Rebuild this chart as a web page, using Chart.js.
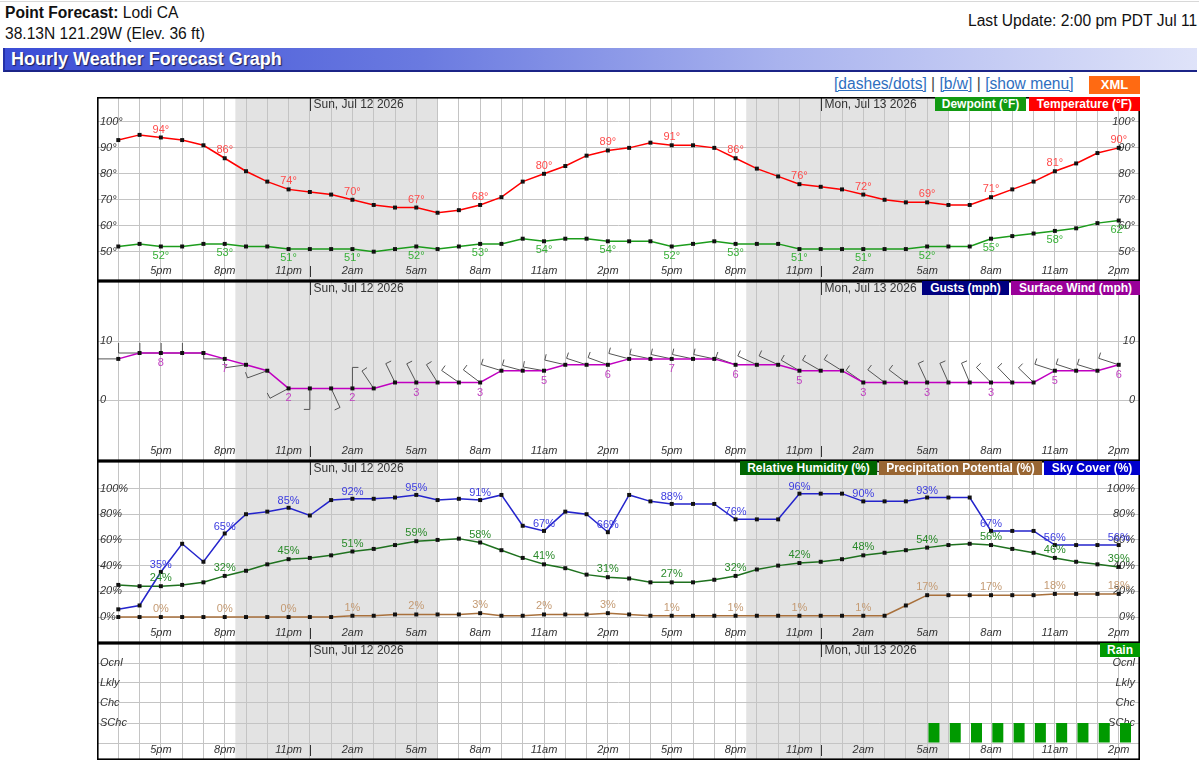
<!DOCTYPE html>
<html>
<head>
<meta charset="utf-8">
<title>Hourly Weather Forecast Graph</title>
<script src="https://cdn.jsdelivr.net/npm/chart.js@4.4.1/dist/chart.umd.min.js"></script>
<style>
  body { margin: 0; background: #fff; font-family: "Liberation Sans", Arial, sans-serif; }
  #page { position: relative; width: 1199px; height: 782px; overflow: hidden; }
  .abs { position: absolute; white-space: nowrap; }
  .head { font-size: 15.6px; line-height: 18px; color: #111; }
  .panel { position: absolute; left: 97px; width: 1043px; }
  .panel canvas { display: block; }
  .key { position: absolute; height: 14px; line-height: 14px; font-size: 12px; font-weight: bold;
         color: #fff; text-align: center; white-space: nowrap; }
  #titlebar { left: 3px; top: 48px; width: 1194px; height: 24px; line-height: 23px;
              border-left: 2px solid #2431a8; border-bottom: 2px solid #1b2487;
              background: linear-gradient(to right, #3b4dd6 0%, #6a7ae0 35%, #a9b3ee 65%, #dfe3f9 100%);
              color: #fff; font-size: 18px; font-weight: bold; padding-left: 6px; box-sizing: border-box;
              text-shadow: 1px 1px 1px #1a1f5a; }
  .links { left: 834px; top: 75px; font-size: 15.6px; line-height: 18px; color: #444; }
  .links a { color: #2f6fc0; text-decoration: underline; }
  .xml { left: 1089px; top: 76px; width: 51px; height: 18px; line-height: 18px; background: #ff6a12;
         color: #fff; font-weight: bold; font-size: 13px; text-align: center; }
</style>
</head>
<body>
<div id="page">
  <div class="abs" style="left:0;top:1px;width:1199px;height:1px;background:#d8d8d8"></div>
  <div class="abs head" style="left:5px;top:4px"><b>Point Forecast:</b> Lodi CA</div>
  <div class="abs head" style="left:5px;top:25px">38.13N 121.29W (Elev. 36 ft)</div>
  <div class="abs head" style="left:968px;top:12px">Last Update: 2:00 pm PDT Jul 11</div>
  <div id="titlebar" class="abs">Hourly Weather Forecast Graph</div>
  <div class="abs links"><a>[dashes/dots]</a> | <a>[b/w]</a> | <a>[show menu]</a></div>
  <div class="abs xml">XML</div>

  <div class="panel" style="top:97px;height:184px"><canvas id="tempChart" width="1043" height="184"></canvas></div>
  <div class="panel" style="top:281px;height:180px"><canvas id="windChart" width="1043" height="180"></canvas></div>
  <div class="panel" style="top:461px;height:182px"><canvas id="pctChart" width="1043" height="182"></canvas></div>
  <div class="panel" style="top:643px;height:117px"><canvas id="rainChart" width="1043" height="117"></canvas></div>

  <div class="key" style="left:935px;top:97px;width:91px;background:#129a12">Dewpoint (°F)</div>
  <div class="key" style="left:1029px;top:97px;width:111px;background:#ff0000">Temperature (°F)</div>
  <div class="key" style="left:922px;top:281px;width:87px;background:#000080">Gusts (mph)</div>
  <div class="key" style="left:1011px;top:281px;width:129px;background:#990099">Surface Wind (mph)</div>
  <div class="key" style="left:740px;top:461px;width:137px;background:#006600">Relative Humidity (%)</div>
  <div class="key" style="left:879px;top:461px;width:163px;background:#996633">Precipitation Potential (%)</div>
  <div class="key" style="left:1044px;top:461px;width:96px;background:#0000cc">Sky Cover (%)</div>
  <div class="key" style="left:1100px;top:643px;width:40px;background:#009900">Rain</div>
</div>
<script>
// hours: 3pm Jul 11 .. 2pm Jul 13
const hourLabels = ['3pm', '4pm', '5pm', '6pm', '7pm', '8pm', '9pm', '10pm', '11pm',
  '12am', '1am', '2am', '3am', '4am', '5am', '6am', '7am', '8am', '9am', '10am', '11am', '12pm', '1pm', '2pm',
  '3pm', '4pm', '5pm', '6pm', '7pm', '8pm', '9pm', '10pm', '11pm',
  '12am', '1am', '2am', '3am', '4am', '5am', '6am', '7am', '8am', '9am', '10am', '11am', '12pm', '1pm', '2pm'];
const nights = [[5.5, 15], [29.5, 39]];
const midnights = [9, 33];
const dayLabels = ['Sun, Jul 12 2026', 'Mon, Jul 13 2026'];

const temperature = [93, 95, 94, 93, 91, 86, 81, 77, 74, 73, 72, 70, 68, 67, 67, 65, 66, 68,
  71, 77, 80, 83, 87, 89, 90, 92, 91, 91, 90, 86, 82, 79, 76,
  75, 74, 72, 70, 69, 69, 68, 68, 71, 74, 77, 81, 84, 88, 90];
const dewpoint = [52, 53, 52, 52, 53, 53, 52, 52, 51, 51, 51, 51, 50, 51, 52, 51, 52, 53,
  53, 55, 54, 55, 55, 54, 54, 54, 52, 53, 54, 53, 53, 53, 51,
  51, 51, 51, 51, 51, 52, 52, 52, 55, 56, 57, 58, 59, 61, 62];
const windSpeed = [7, 8, 8, 8, 8, 7, 6, 5, 2, 2, 2, 2, 2, 3, 3, 3, 3, 3,
  5, 5, 5, 6, 6, 6, 7, 7, 7, 7, 7, 6, 6, 6, 5,
  5, 5, 3, 3, 3, 3, 3, 3, 3, 3, 3, 5, 5, 5, 6];
const windDir = [270, 270, 270, 270, 270, 270, 262, 250, 242, 180, 155, 360, 326, 334, 333, 328, 305, 307,
  287, 285, 280, 283, 288, 290, 285, 282, 282, 282, 282, 290, 295, 295, 300,
  300, 302, 305, 307, 307, 335, 336, 337, 316, 316, 314, 288, 288, 287, 288];
const skyCover = [6, 9, 35, 57, 43, 65, 80, 82, 85, 79, 91, 92, 92, 93, 95, 91, 92, 91,
  95, 71, 67, 82, 80, 66, 95, 90, 88, 88, 88, 76, 76, 76, 96,
  96, 96, 90, 90, 90, 93, 93, 93, 67, 67, 67, 56, 56, 56, 56];
const humidity = [25, 24, 24, 25, 27, 32, 36, 41, 45, 46, 48, 51, 53, 56, 59, 60, 61, 58,
  52, 46, 41, 38, 33, 31, 30, 27, 27, 27, 29, 32, 37, 40, 42,
  43, 45, 48, 50, 52, 54, 56, 57, 56, 53, 50, 46, 43, 41, 39];
const precipPot = [0, 0, 0, 0, 0, 0, 0, 0, 0, 0, 0, 1, 1, 2, 2, 2, 2, 3,
  1, 1, 2, 2, 2, 3, 2, 1, 1, 1, 1, 1, 1, 1, 1,
  1, 1, 1, 1, 9, 17, 17, 17, 17, 17, 17, 18, 18, 18, 18];
// 0 = none, 1 = SChc, 2 = Chc, 3 = Lkly, 4 = Ocnl
const rainChance = [0, 0, 0, 0, 0, 0, 0, 0, 0, 0, 0, 0, 0, 0, 0, 0, 0, 0,
  0, 0, 0, 0, 0, 0, 0, 0, 0, 0, 0, 0, 0, 0, 0,
  0, 0, 0, 0, 0, 1, 1, 1, 1, 1, 1, 1, 1, 1, 1];

const tempTicks = [50, 60, 70, 80, 90, 100];
const windTicks = [0, 10];
const pctTicks = [0, 20, 40, 60, 80, 100];
const rainTicks = ['', 'SChc', 'Chc', 'Lkly', 'Ocnl'];

const FONT = '"Liberation Sans", Arial, sans-serif';
const GRID = '#c4c4c4';

const panelDecor = {
  id: 'panelDecor',
  beforeDraw(chart) {
    const { ctx, chartArea: a } = chart;
    const x = chart.scales.x;
    ctx.save();
    ctx.fillStyle = '#e3e3e3';
    nights.forEach(([s, e]) => {
      const x0 = x.getPixelForValue(s);
      ctx.fillRect(x0, a.top, x.getPixelForValue(e) - x0, a.bottom - a.top);
    });
    ctx.restore();
  },
  afterDraw(chart) {
    const { ctx, chartArea: a } = chart;
    const x = chart.scales.x;
    ctx.save();
    ctx.strokeStyle = '#333';
    ctx.fillStyle = '#333';
    ctx.lineWidth = 1;
    ctx.font = `12px ${FONT}`;
    ctx.textBaseline = 'middle';
    midnights.forEach((m, i) => {
      const px = Math.round(x.getPixelForValue(m)) + 0.5;
      ctx.beginPath();
      ctx.moveTo(px, a.top);
      ctx.lineTo(px, a.top + 14);
      ctx.moveTo(px, a.bottom - 15);
      ctx.lineTo(px, a.bottom - 4);
      ctx.stroke();
      ctx.fillText(dayLabels[i], px + 3, a.top + 8);
    });
    ctx.strokeStyle = '#000';
    ctx.lineWidth = 1.6;
    ctx.strokeRect(a.left + 0.8, a.top + 0.8, a.right - a.left - 1.6, a.bottom - a.top - 1.6);
    ctx.restore();
  },
};

const valueLabels = {
  id: 'valueLabels',
  afterDatasetsDraw(chart) {
    const { ctx } = chart;
    chart.data.datasets.forEach((ds, di) => {
      if (!ds.valueLabel) return;
      const meta = chart.getDatasetMeta(di);
      ctx.save();
      ctx.font = `11px ${FONT}`;
      ctx.fillStyle = ds.valueLabel.color;
      ctx.textAlign = 'center';
      ctx.textBaseline = 'middle';
      meta.data.forEach((pt, i) => {
        if (i % 3 !== 2) return;
        ctx.fillText(ds.data[i].y + ds.valueLabel.suffix, pt.x, pt.y + ds.valueLabel.dy);
      });
      ctx.restore();
    });
  },
};

const windBarbs = {
  id: 'windBarbs',
  beforeDatasetsDraw(chart) {
    const { ctx } = chart;
    const meta = chart.getDatasetMeta(0);
    ctx.save();
    ctx.strokeStyle = '#555';
    ctx.lineWidth = 1;
    ctx.beginPath();
    meta.data.forEach((pt, i) => {
      const a = windDir[i] * Math.PI / 180;
      const ux = Math.sin(a);
      const uy = -Math.cos(a);
      const ex = pt.x + ux * 21;
      const ey = pt.y + uy * 21;
      const barb = windSpeed[i] >= 8 ? 10 : 6;
      ctx.moveTo(pt.x, pt.y);
      ctx.lineTo(ex, ey);
      ctx.lineTo(ex - uy * barb, ey + ux * barb);
    });
    ctx.stroke();
    ctx.restore();
  },
};

const tickFont = { family: FONT, size: 11, style: 'italic' };

function xScale() {
  return {
    type: 'linear',
    min: -1,
    max: hourLabels.length,
    offset: false,
    afterBuildTicks: (s) => {
      s.ticks = [];
      for (let i = -1; i <= hourLabels.length; i += 1) s.ticks.push({ value: i });
    },
    afterFit: (s) => { s.height = 0; s.paddingLeft = 0; s.paddingRight = 0; },
    grid: { color: GRID, lineWidth: 1, drawTicks: false, offset: false },
    border: { display: false },
    ticks: {
      autoSkip: false, maxRotation: 0, minRotation: 0, mirror: true, padding: 3,
      color: '#333', font: tickFont,
      callback: (v) => (v >= 0 && v % 3 === 2 ? hourLabels[v] : ''),
    },
  };
}

function yScales(min, max, values, fmt) {
  const tickList = (s) => { s.ticks = values.map((v) => ({ value: v })); };
  const flat = (s) => { s.width = 0; s.paddingTop = 0; s.paddingBottom = 0; };
  const ticks = { mirror: true, color: '#333', font: tickFont, callback: fmt };
  return {
    y: {
      type: 'linear', min, max, position: 'left', afterBuildTicks: tickList, afterFit: flat,
      grid: { color: GRID, lineWidth: 1, drawTicks: false }, border: { display: false },
      ticks: { ...ticks, padding: 3 },
    },
    y2: {
      type: 'linear', min, max, position: 'right', afterBuildTicks: tickList, afterFit: flat,
      grid: { display: false }, border: { display: false },
      ticks: { ...ticks, padding: -5 },
    },
  };
}

function series(values, color, labelColor, dy, suffix) {
  return {
    data: values.map((v, i) => ({ x: i, y: v })),
    borderColor: color,
    borderWidth: 1.5,
    tension: 0,
    pointStyle: 'rect',
    pointRadius: 2.8,
    pointBackgroundColor: '#111',
    pointBorderWidth: 0,
    valueLabel: { color: labelColor, dy, suffix },
  };
}

function panel(id, datasets, y, extraScales, extraPlugins) {
  return new Chart(document.getElementById(id), {
    type: 'line',
    data: { datasets },
    options: {
      responsive: false,
      animation: false,
      devicePixelRatio: 1,
      events: [],
      layout: { autoPadding: false, padding: 0 },
      plugins: { legend: { display: false }, tooltip: { enabled: false } },
      scales: { x: xScale(), ...yScales(y.min, y.max, y.ticks, y.fmt), ...extraScales },
    },
    plugins: [panelDecor, valueLabels, ...extraPlugins],
  });
}

panel('tempChart', [
  series(temperature, '#ff0000', '#ff4a4a', -8, '°'),
  series(dewpoint, '#1c9c1c', '#38b038', 9, '°'),
], { min: 38.7, max: 109.6, ticks: tempTicks, fmt: (v) => `${v}°` }, {}, []);

panel('windChart', [
  series(windSpeed, '#c000c0', '#c040c0', 10, ''),
], { min: -10.3, max: 20.2, ticks: windTicks, fmt: (v) => `${v}` }, {}, [windBarbs]);

panel('pctChart', [
  series(skyCover, '#2424cc', '#3c3ce0', -7, '%'),
  series(humidity, '#1f711f', '#2a8a2a', -8, '%'),
  series(precipPot, '#a8703c', '#c49a72', -8, '%'),
], { min: -20.2, max: 121.4, ticks: pctTicks, fmt: (v) => `${v}%` }, {}, []);

panel('rainChart', [{
  type: 'bar',
  xAxisID: 'xb',
  data: rainChance.map((v, i) => ({ x: i, y: v })),
  backgroundColor: '#009a00',
  borderWidth: 0,
  inflateAmount: 0,
  barThickness: 11,
}], { min: -0.85, max: 5, ticks: [0, 1, 2, 3, 4], fmt: (v) => rainTicks[v] }, {
  xb: { type: 'linear', min: -1.32, max: hourLabels.length - 0.32, display: false, offset: false },
}, []);
</script>
</body>
</html>
